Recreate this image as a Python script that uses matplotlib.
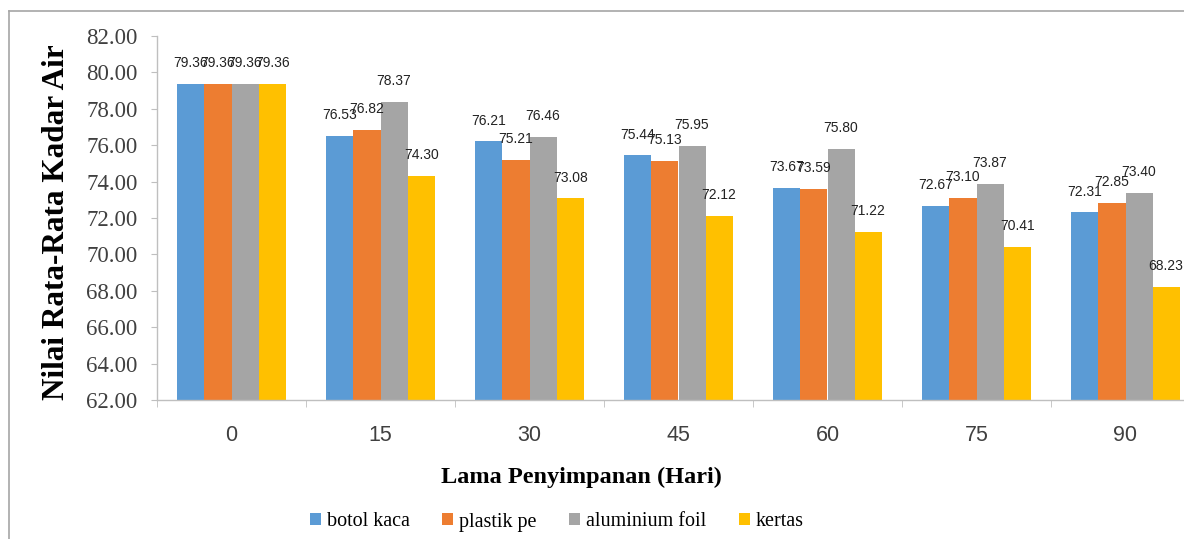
import numpy as np
import matplotlib
matplotlib.use("Agg")
import matplotlib.pyplot as plt
from matplotlib import font_manager
from matplotlib.lines import Line2D
from matplotlib.ticker import FormatStrFormatter

days = ["0", "15", "30", "45", "60", "75", "90"]
series = ["botol kaca", "plastik pe", "aluminium foil", "kertas"]
botol_kaca = [79.36, 76.53, 76.21, 75.44, 73.67, 72.67, 72.31]
plastik_pe = [79.36, 76.82, 75.21, 75.13, 73.59, 73.10, 72.85]
aluminium_foil = [79.36, 78.37, 76.46, 75.95, 75.80, 73.87, 73.40]
kertas = [79.36, 74.30, 73.08, 72.12, 71.22, 70.41, 68.23]
colors = ["#5B9BD5", "#ED7D31", "#A5A5A5", "#FFC000"]

serif = "Liberation Serif"
sans = "Liberation Sans"
installed = {f.name for f in font_manager.fontManager.ttflist}
label_font = "Liberation Sans Narrow" if "Liberation Sans Narrow" in installed else sans
label_size = 11 if label_font != sans else 10

fig = plt.figure(figsize=(11.84, 5.39), dpi=100)
# plot area runs past the right edge like the cropped original
ax = fig.add_axes([157 / 1184, 139 / 539, 1043 / 1184, 364 / 539])

x = np.arange(len(days))
w = 0.182
all_vals = [botol_kaca, plastik_pe, aluminium_foil, kertas]
for i, (name, vals, c) in enumerate(zip(series, all_vals, colors)):
    pos = x + (i - 1.5) * w
    ax.bar(pos, np.array(vals) - 62, bottom=62, width=w, color=c, label=name)
    for px, v in zip(pos, vals):
        ax.annotate(f"{v:.2f}", (px, v), xytext=(0, 15), textcoords="offset points",
                    ha="center", va="center", fontsize=label_size, family=label_font,
                    color="#222222")

ax.set_xlim(-0.5, 6.5)
ax.set_ylim(62, 82)
ax.set_yticks(np.arange(62, 82.1, 2))
ax.yaxis.set_major_formatter(FormatStrFormatter("%.2f"))
ax.set_xticks(x)
ax.set_xticklabels(days)
ax.set_xticks(np.arange(-0.5, 7, 1), minor=True)

for s in ["top", "right"]:
    ax.spines[s].set_visible(False)
for s in ["left", "bottom"]:
    ax.spines[s].set_color("#BFBFBF")
    ax.spines[s].set_linewidth(1)

ax.tick_params(axis="y", length=4, color="#BFBFBF", pad=10, labelsize=16.5, labelcolor="#404040")
ax.tick_params(axis="x", which="major", length=0, pad=18, labelsize=15.5, labelcolor="#404040")
ax.tick_params(axis="x", which="minor", length=5, color="#BFBFBF")
for t in ax.get_yticklabels():
    t.set_family(serif)
for t in ax.get_xticklabels():
    t.set_family(sans)

fig.text(57 / 1184, 1 - 222 / 539, "Nilai Rata-Rata Kadar Air", rotation=90,
         ha="center", va="center", fontsize=22.5, fontweight="bold", family=serif)
fig.text(581 / 1184, 1 - 477 / 539, "Lama Penyimpanan (Hari)",
         ha="center", va="center", fontsize=17.5, fontweight="bold", family=serif)

leg = fig.legend(loc="center", bbox_to_anchor=(557 / 1184, 1 - 522 / 539), ncol=4,
                 frameon=False, prop={"family": serif, "size": 14.5},
                 handlelength=0.55, handleheight=0.55, handletextpad=0.3,
                 columnspacing=1.6)

# outer chart frame (cropped on the right and bottom)
fig.add_artist(Line2D([9 / 1184, 9 / 1184], [0, 1 - 11 / 539], color="#A6A6A6", lw=1.2))
fig.add_artist(Line2D([9 / 1184, 1], [1 - 11 / 539, 1 - 11 / 539], color="#A6A6A6", lw=1.2))

fig.savefig("out.png", dpi=100)
